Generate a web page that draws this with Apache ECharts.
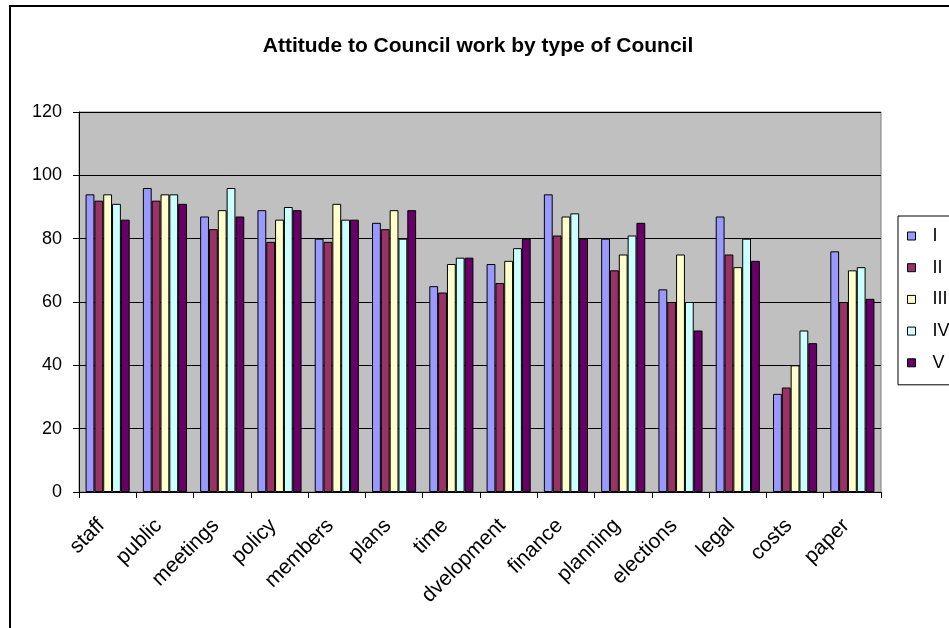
<!DOCTYPE html>
<html>
<head>
<meta charset="utf-8">
<title>Attitude to Council work by type of Council</title>
<script src="https://cdn.jsdelivr.net/npm/echarts@6/dist/echarts.min.js"></script>
<style>
  html, body { margin: 0; padding: 0; background: #fff; }
  #chart { width: 949px; height: 628px; }
</style>
</head>
<body>
<div id="chart"></div>
<script>
// Topics surveyed, one group of bars each
const categories = ['staff', 'public', 'meetings', 'policy', 'members', 'plans', 'time',
  'dvelopment', 'finance', 'planning', 'elections', 'legal', 'costs', 'paper'];

// Score per topic for each type of Council
const typeI   = [94, 96, 87, 89, 80, 85, 65, 72, 94, 80, 64, 87, 31, 76];
const typeII  = [92, 92, 83, 79, 79, 83, 63, 66, 81, 70, 60, 75, 33, 60];
const typeIII = [94, 94, 89, 86, 91, 89, 72, 73, 87, 75, 75, 71, 40, 70];
const typeIV  = [91, 94, 96, 90, 86, 80, 74, 77, 88, 81, 60, 80, 51, 71];
const typeV   = [86, 91, 87, 89, 86, 89, 74, 80, 80, 85, 51, 73, 47, 61];

const seriesNames = ['I', 'II', 'III', 'IV', 'V'];
const seriesValues = [typeI, typeII, typeIII, typeIV, typeV];
const palette = ['#9999FF', '#993366', '#FFFFCC', '#CCFFFF', '#660066'];

// Value axis ticks
const yMin = 0, yMax = 120, yStep = 20;

const font = '"Liberation Sans", Arial, sans-serif';

const chart = echarts.init(document.getElementById('chart'), null, { renderer: 'canvas' });

chart.setOption({
  animation: false,
  backgroundColor: '#ffffff',
  color: palette,
  textStyle: { fontFamily: font },
  title: {
    text: 'Attitude to Council work by type of Council',
    left: 478,
    top: 36,
    textAlign: 'center',
    padding: 0,
    textStyle: { fontFamily: font, fontSize: 21, fontWeight: 'bold', color: '#000' }
  },
  graphic: [{
    type: 'rect',
    shape: { x: 10, y: 6, width: 1000, height: 700 },
    style: { fill: 'none', stroke: '#000', lineWidth: 2 },
    silent: true,
    z: 100
  }],
  legend: {
    orient: 'vertical',
    left: 898,
    top: 216,
    padding: [11, 30, 13, 9],
    itemWidth: 8,
    itemHeight: 8,
    itemGap: 13.7,
    icon: 'rect',
    borderColor: '#000',
    borderWidth: 1,
    backgroundColor: '#fff',
    itemStyle: { borderColor: '#000', borderWidth: 1 },
    textStyle: { fontFamily: font, fontSize: 18, color: '#000', lineHeight: 18, padding: [0, 0, 0, 12] },
    data: seriesNames
  },
  grid: {
    left: 79,
    top: 112,
    right: 68,
    bottom: 136,
    show: true,
    backgroundColor: '#C0C0C0',
    borderColor: '#808080',
    borderWidth: 1,
    containLabel: false
  },
  xAxis: {
    type: 'category',
    data: categories,
    boundaryGap: true,
    axisLine: { lineStyle: { color: '#000', width: 1 } },
    axisTick: { show: true, length: 6, lineStyle: { color: '#000' } },
    axisLabel: {
      rotate: 45,
      interval: 0,
      margin: 24,
      padding: [0, 9, 0, 0],
      fontFamily: font,
      fontSize: 21,
      color: '#000'
    }
  },
  yAxis: {
    type: 'value',
    min: yMin,
    max: yMax,
    interval: yStep,
    axisLine: { show: true, lineStyle: { color: '#000', width: 1 } },
    axisTick: { show: true, length: 6, lineStyle: { color: '#000' } },
    splitLine: { show: true, lineStyle: { color: '#000', width: 1 } },
    axisLabel: { fontFamily: font, fontSize: 18, color: '#000', margin: 17 }
  },
  series: seriesNames.map((name, i) => ({
    name: name,
    type: 'bar',
    data: seriesValues[i],
    barGap: '0%',
    barCategoryGap: '23%',
    itemStyle: { color: palette[i], borderColor: '#000', borderWidth: 1 }
  }))
});
</script>
</body>
</html>
